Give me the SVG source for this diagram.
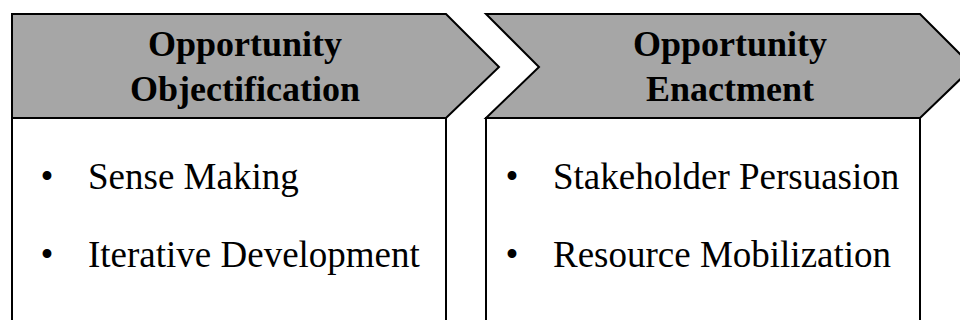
<svg xmlns="http://www.w3.org/2000/svg" width="960" height="320" viewBox="0 0 960 320">
  <style>
    .hdr { fill: #a6a6a6; stroke: #000; stroke-width: 2; stroke-linejoin: miter; }
    .box { fill: #fff; stroke: #000; stroke-width: 2; }
    .ht { font-family: "Liberation Serif", "Times New Roman", serif; font-weight: bold; font-size: 36px; fill: #000; text-anchor: middle; }
    .bt { font-family: "Liberation Serif", "Times New Roman", serif; font-size: 37px; fill: #000; }
    .bl { font-family: "Liberation Serif", "Times New Roman", serif; font-size: 37px; fill: #000; text-anchor: middle; }
  </style>
  <rect width="960" height="320" fill="#fff"/>
  <g id="stage-objectification">
    <rect class="box" x="12" y="118" width="434" height="220"/>
    <polygon class="hdr" points="12,14 446,14 499,67 446,118 12,118"/>
    <text class="ht" x="245" y="56">Opportunity</text>
    <text class="ht" x="245" y="101">Objectification</text>
    <text class="bl" x="47" y="189">•</text>
    <text class="bt" x="88" y="189">Sense Making</text>
    <text class="bl" x="47" y="267">•</text>
    <text class="bt" x="88" y="267">Iterative Development</text>
  </g>
  <g id="stage-enactment">
    <rect class="box" x="486" y="118" width="434" height="220"/>
    <polygon class="hdr" points="486,14 920,14 973,67 920,118 486,118 539,67"/>
    <text class="ht" x="730" y="56">Opportunity</text>
    <text class="ht" x="730" y="101">Enactment</text>
    <text class="bl" x="512" y="189">•</text>
    <text class="bt" x="553" y="189">Stakeholder Persuasion</text>
    <text class="bl" x="512" y="267">•</text>
    <text class="bt" x="553" y="267">Resource Mobilization</text>
  </g>
  <g id="connectors"/>
</svg>
